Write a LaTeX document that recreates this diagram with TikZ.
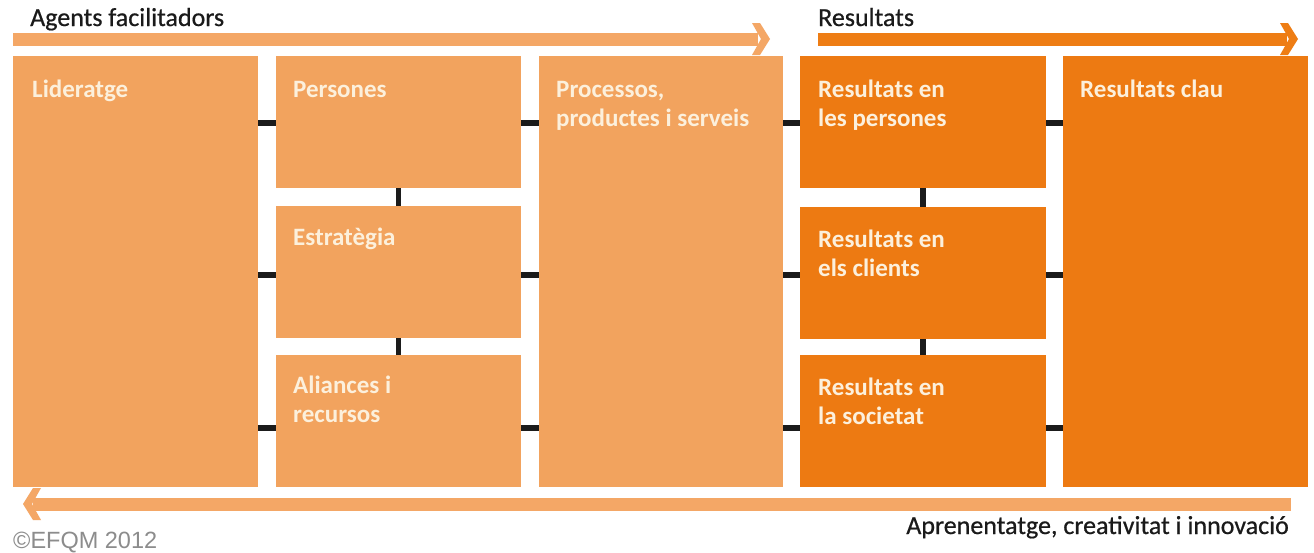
\documentclass[tikz,border=0pt]{standalone}
\usepackage{fontspec}
\setmainfont{Carlito}
\newfontfamily\headfont[FakeBold=0.6]{Carlito}
\newfontfamily\arialfont{Liberation Sans}
\definecolor{lightor}{HTML}{F2A35E}
\definecolor{lightarr}{HTML}{F4A766}
\definecolor{darkor}{HTML}{ED7A12}
\definecolor{darkarr}{HTML}{EE7D14}
\definecolor{cream}{HTML}{FCF0DC}
\definecolor{connblack}{HTML}{1B1B1B}
\definecolor{headtext}{HTML}{1A1A1A}
\definecolor{copygray}{HTML}{8C8C8C}
\tikzset{
  lbox/.style={rectangle, fill=lightor, draw=none, inner sep=0pt, anchor=north west},
  dbox/.style={rectangle, fill=darkor, draw=none, inner sep=0pt, anchor=north west},
  lbl/.style={anchor=base west, inner sep=0pt, text=cream, font=\fontsize{25}{29}\selectfont\bfseries},
  head/.style={inner sep=0pt, text=headtext, font=\headfont\fontsize{26}{30}\selectfont},
  conn/.style={draw=connblack, line width=5.5pt},
}
\newcommand{\twol}[2]{\begin{tabular}[t]{@{}l@{}}#1\\#2\end{tabular}}
\begin{document}
\begin{tikzpicture}[x=1pt,y=-1pt]
\useasboundingbox (0,0) rectangle (1314,552);
\fill[white] (0,0) rectangle (1314,552);

% top arrows
\fill[lightarr] (13,32.5) rectangle (758,45.5);
\fill[lightarr] (752,23) -- (760,23) -- (770,39) -- (760,55) -- (752,55) -- (761,39) -- cycle;
\fill[darkarr] (818,32.5) rectangle (1287,45.5);
\fill[darkarr] (1280,23) -- (1288,23) -- (1298,39) -- (1288,55) -- (1280,55) -- (1289,39) -- cycle;
% bottom arrow
\fill[lightarr] (33,497.5) rectangle (1291,510.5);
\fill[lightarr] (41,488) -- (33,488) -- (23,504) -- (33,520) -- (41,520) -- (32,504) -- cycle;

% headings
\node[head, anchor=base west] (hagents) at (30,26) {Agents facilitadors};
\node[head, anchor=base west] (hres) at (818,26) {Resultats};
\node[head, anchor=base east] (hapren) at (1289,534) {Aprenentatge, creativitat i innovació};
\node[anchor=base west, inner sep=0pt, text=copygray, font=\arialfont\fontsize{23.5}{28}\selectfont] (copy) at (13,548) {©EFQM 2012};

% boxes
\node[lbox, minimum width=245pt, minimum height=431pt] (lid) at (13,56) {};
\node[lbox, minimum width=245pt, minimum height=132pt] (pers) at (276,56) {};
\node[lbox, minimum width=245pt, minimum height=132pt] (estr) at (276,206) {};
\node[lbox, minimum width=245pt, minimum height=132pt] (alia) at (276,355) {};
\node[lbox, minimum width=244pt, minimum height=431pt] (proc) at (539,56) {};
\node[dbox, minimum width=246pt, minimum height=132pt] (rpers) at (800,56) {};
\node[dbox, minimum width=246pt, minimum height=132pt] (rcli) at (800,207) {};
\node[dbox, minimum width=246pt, minimum height=132pt] (rsoc) at (800,355) {};
\node[dbox, minimum width=245pt, minimum height=431pt] (rclau) at (1063,56) {};

% labels
\node[lbl] (tlid) at ([shift={(19,41)}]lid.north west) {Lideratge};
\node[lbl] (tpers) at ([shift={(17,41)}]pers.north west) {Persones};
\node[lbl] (testr) at ([shift={(17,39)}]estr.north west) {Estratègia};
\node[lbl] (talia) at ([shift={(17,38)}]alia.north west) {\twol{Aliances i}{recursos}};
\node[lbl] (tproc) at ([shift={(17,41)}]proc.north west) {\twol{Processos,}{productes i serveis}};
\node[lbl] (trpers) at ([shift={(18,41)}]rpers.north west) {\twol{Resultats en}{les persones}};
\node[lbl] (trcli) at ([shift={(18,40)}]rcli.north west) {\twol{Resultats en}{els clients}};
\node[lbl] (trsoc) at ([shift={(18,40)}]rsoc.north west) {\twol{Resultats en}{la societat}};
\node[lbl] (trclau) at ([shift={(17,41)}]rclau.north west) {Resultats clau};

% connector rows
\coordinate (row1) at (0,123);
\coordinate (row2) at (0,275);
\coordinate (row3) at (0,428);

% horizontal connectors
\draw[conn] (lid.east |- row1) -- (pers.west |- row1);
\draw[conn] (lid.east |- row2) -- (estr.west |- row2);
\draw[conn] (lid.east |- row3) -- (alia.west |- row3);
\draw[conn] (pers.east |- row1) -- (proc.west |- row1);
\draw[conn] (estr.east |- row2) -- (proc.west |- row2);
\draw[conn] (alia.east |- row3) -- (proc.west |- row3);
\draw[conn] (proc.east |- row1) -- (rpers.west |- row1);
\draw[conn] (proc.east |- row2) -- (rcli.west |- row2);
\draw[conn] (proc.east |- row3) -- (rsoc.west |- row3);
\draw[conn] (rpers.east |- row1) -- (rclau.west |- row1);
\draw[conn] (rcli.east |- row2) -- (rclau.west |- row2);
\draw[conn] (rsoc.east |- row3) -- (rclau.west |- row3);

% vertical connectors
\draw[conn] (pers.south) -- (estr.north);
\draw[conn] (estr.south) -- (alia.north);
\draw[conn] (rpers.south) -- (rcli.north);
\draw[conn] (rcli.south) -- (rsoc.north);
\end{tikzpicture}
\end{document}
